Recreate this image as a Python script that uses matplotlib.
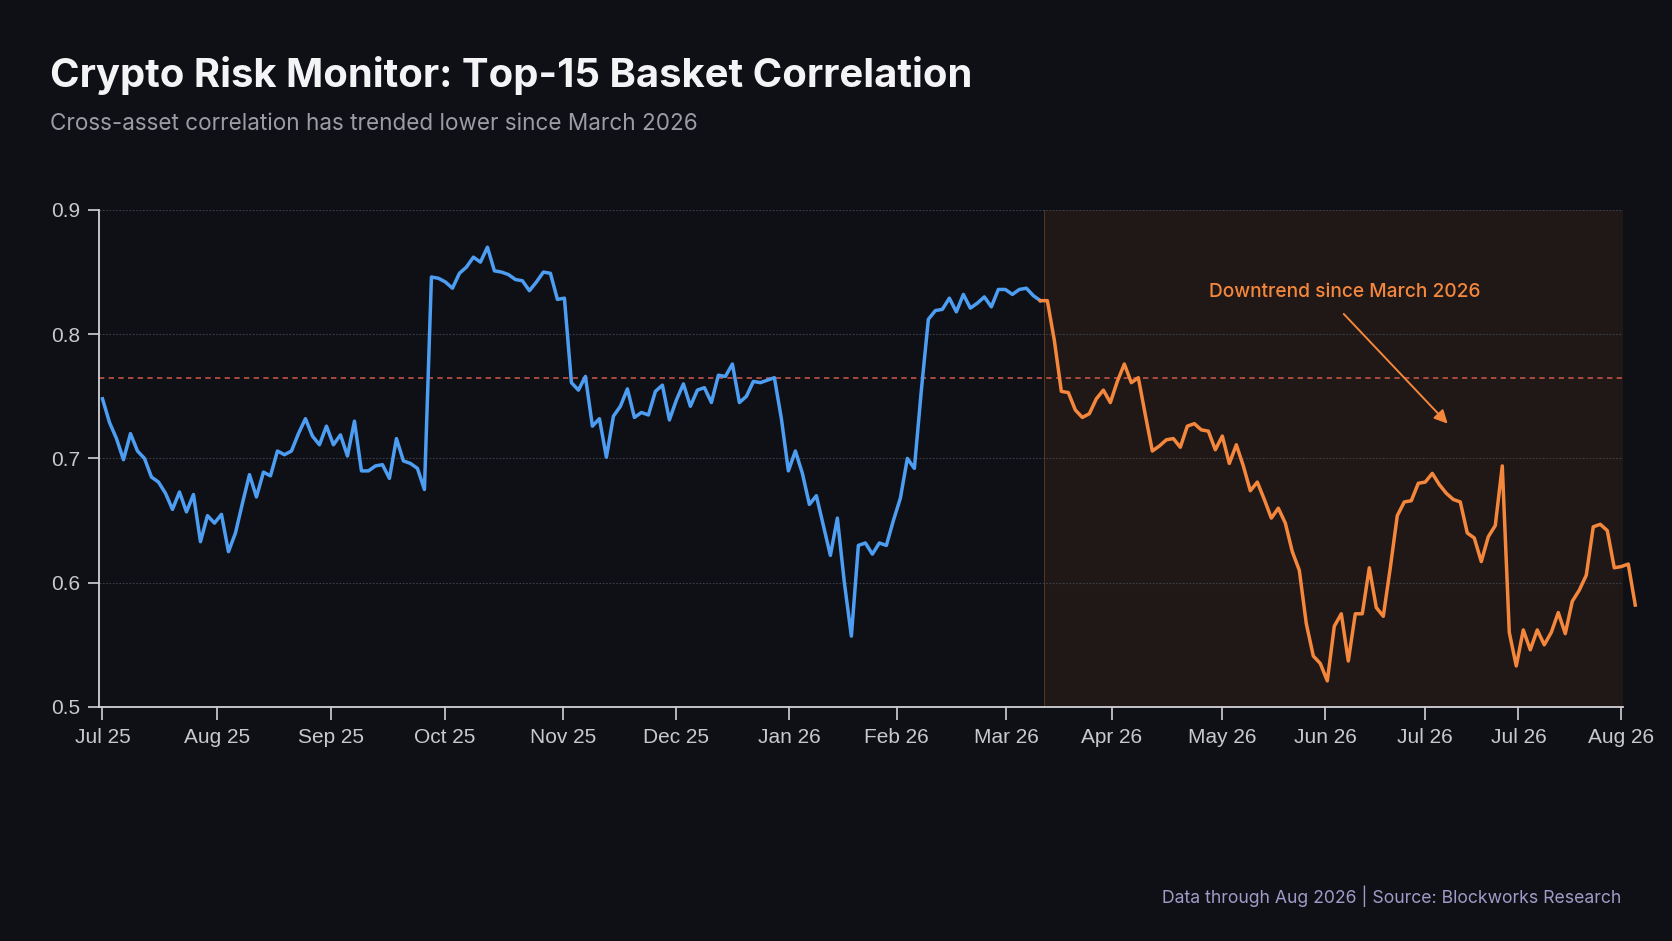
import numpy as np
import matplotlib.pyplot as plt

# basket correlation, one reading every 2 days starting Jul 2025
step_days = 2
corr = [
    0.748, 0.729, 0.716, 0.699, 0.720, 0.706, 0.700, 0.685, 0.681, 0.672,
    0.659, 0.673, 0.657, 0.671, 0.633, 0.654, 0.648, 0.655, 0.625, 0.640,
    0.664, 0.687, 0.669, 0.689, 0.686, 0.706, 0.703, 0.706, 0.720, 0.732,
    0.718, 0.711, 0.726, 0.711, 0.719, 0.702, 0.730, 0.690, 0.690, 0.694,
    0.695, 0.684, 0.716, 0.698, 0.696, 0.692, 0.675, 0.846, 0.845, 0.842,
    0.837, 0.849, 0.854, 0.862, 0.858, 0.870, 0.851, 0.850, 0.848, 0.844,
    0.843, 0.835, 0.842, 0.850, 0.849, 0.828, 0.829, 0.761, 0.755, 0.766,
    0.726, 0.732, 0.701, 0.734, 0.742, 0.756, 0.733, 0.737, 0.735, 0.754,
    0.759, 0.731, 0.747, 0.760, 0.742, 0.755, 0.757, 0.745, 0.767, 0.766,
    0.776, 0.745, 0.750, 0.762, 0.761, 0.763, 0.765, 0.732, 0.690, 0.706,
    0.688, 0.663, 0.670, 0.646, 0.622, 0.652, 0.600, 0.557, 0.630, 0.632,
    0.623, 0.632, 0.630, 0.650, 0.668, 0.700, 0.692, 0.755, 0.812, 0.819,
    0.820, 0.829, 0.818, 0.832, 0.821, 0.825, 0.830, 0.822, 0.836, 0.836,
    0.832, 0.836, 0.837, 0.831, 0.827, 0.827, 0.795, 0.754, 0.753, 0.739,
    0.733, 0.736, 0.748, 0.755, 0.745, 0.762, 0.776, 0.761, 0.765, 0.735,
    0.706, 0.710, 0.715, 0.716, 0.709, 0.726, 0.728, 0.723, 0.722, 0.707,
    0.718, 0.696, 0.711, 0.694, 0.674, 0.681, 0.667, 0.652, 0.660, 0.648,
    0.625, 0.610, 0.567, 0.541, 0.535, 0.521, 0.565, 0.575, 0.537, 0.575,
    0.575, 0.612, 0.580, 0.573, 0.612, 0.654, 0.665, 0.666, 0.680, 0.681,
    0.688, 0.679, 0.672, 0.667, 0.665, 0.640, 0.636, 0.617, 0.637, 0.646,
    0.694, 0.560, 0.533, 0.562, 0.546, 0.562, 0.550, 0.560, 0.576, 0.559,
    0.585, 0.594, 0.606, 0.645, 0.647, 0.642, 0.612, 0.613, 0.615, 0.582,
]
split_day = 268          # start of the March 2026 downtrend
mean_corr = 0.765

tick_days = [0, 32.6, 65.4, 97.8, 131.7, 163.9, 196.2, 227, 258.2, 288.4, 320, 349.4, 378, 404.6, 433.9]
tick_labels = ['Jul 25', 'Aug 25', 'Sep 25', 'Oct 25', 'Nov 25', 'Dec 25', 'Jan 26', 'Feb 26',
               'Mar 26', 'Apr 26', 'May 26', 'Jun 26', 'Jul 26', 'Jul 26', 'Aug 26']
y_ticks = [0.5, 0.6, 0.7, 0.8, 0.9]

bg = '#0e1015'
blue = '#4d9ef2'
orange = '#f5873c'
axis_col = '#d2d2d6'

days = np.arange(len(corr)) * step_days
corr = np.array(corr)
before = days <= split_day
after = days >= split_day
x_end = 434.5

fig = plt.figure(figsize=(16.72, 9.41), dpi=100, facecolor=bg)
ax = fig.add_axes([0.0592, 0.2487, 0.9115, 0.5282])
ax.set_facecolor(bg)

# shaded downtrend window
ax.axvspan(split_day + 1, x_end, color=orange, alpha=0.075, lw=0, zorder=0)
ax.axvline(split_day + 1, color=orange, alpha=0.25, lw=0.8, zorder=0)

ax.yaxis.grid(True, color='#3d4049', ls=(0, (1.5, 1.5)), lw=0.8, zorder=1)
ax.axhline(mean_corr, color='#e0604f', ls=(0, (3.2, 2.6)), lw=1.2, alpha=0.85, zorder=2)

ax.plot(days[before], corr[before], color=blue, lw=2.5, solid_joinstyle='round', zorder=3)
ax.plot(days[after], corr[after], color=orange, lw=2.5, solid_joinstyle='round', zorder=3, clip_on=False)

# annotation
ax.text(355, 0.834, 'Downtrend since March 2026', color=orange, fontsize=13.8,
        family=['Inter', 'DejaVu Sans'], weight='medium', ha='center', va='center')
ax.annotate('', xy=(384.4, 0.728), xytext=(354.7, 0.8163),
            arrowprops=dict(arrowstyle='-|>', color=orange, lw=1.4, mutation_scale=20,
                            shrinkA=0, shrinkB=0))

ax.set_xlim(-1, x_end)
ax.set_ylim(0.5, 0.9)
ax.set_xticks(tick_days, tick_labels)
ax.set_yticks(y_ticks, [f'{v:.1f}' for v in y_ticks])

for s in ['top', 'right']:
    ax.spines[s].set_visible(False)
for s in ['left', 'bottom']:
    ax.spines[s].set_color(axis_col)
    ax.spines[s].set_linewidth(1.3)

ax.tick_params(axis='x', length=9, width=1.2, color=axis_col, pad=6,
               labelsize=15, labelcolor='#c9c9cd')
ax.tick_params(axis='y', length=8, width=1.2, color=axis_col, pad=5.5,
               labelsize=15, labelcolor='#c9c9cd')
for lab in ax.get_xticklabels() + ax.get_yticklabels():
    lab.set_family(['Liberation Sans', 'DejaVu Sans'])

# titles and footer
fig.text(0.0299, 0.9075, 'Crypto Risk Monitor: Top-15 Basket Correlation', color='#f4f4f6',
         fontsize=28.8, weight='bold', family=['Inter', 'DejaVu Sans'], va='baseline')
fig.text(0.0299, 0.8618, 'Cross-asset correlation has trended lower since March 2026', color='#9c9da4',
         fontsize=16.2, family=['Inter', 'DejaVu Sans'], va='baseline')
fig.text(0.9695, 0.0404, 'Data through Aug 2026 | Source: Blockworks Research', color='#a09bc8',
         fontsize=12.7, family=['Inter', 'DejaVu Sans'], ha='right', va='baseline')

fig.savefig('out.png', dpi=100, facecolor=bg)
